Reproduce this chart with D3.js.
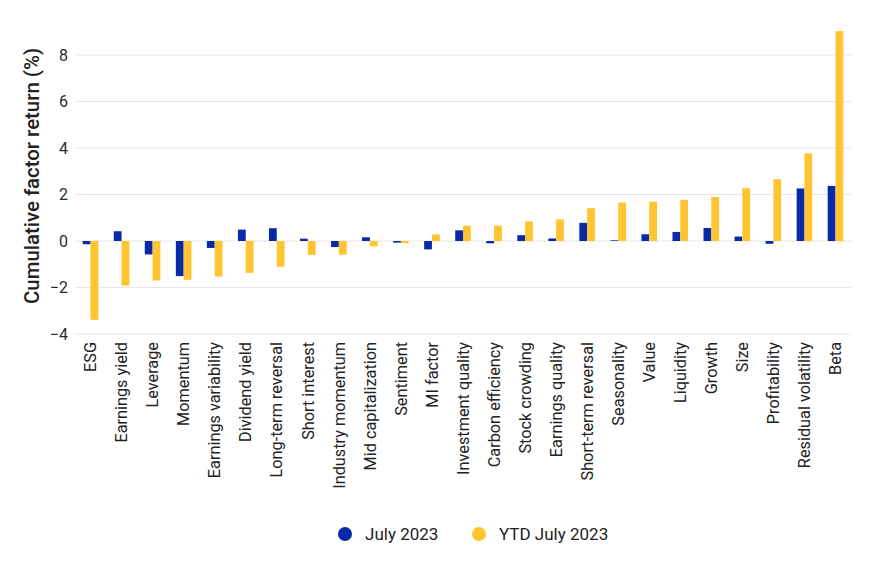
<!DOCTYPE html>
<html>
<head>
<meta charset="utf-8">
<script src="https://cdn.jsdelivr.net/npm/d3@7"></script>
<style>
  body { margin: 0; background: #fff; }
  svg { display: block; font-family: Roboto, "Noto Sans", sans-serif; }
</style>
</head>
<body>
<div id="chart"></div>
<script>
const factors = ['ESG', 'Earnings yield', 'Leverage', 'Momentum', 'Earnings variability',
  'Dividend yield', 'Long-term reversal', 'Short interest', 'Industry momentum',
  'Mid capitalization', 'Sentiment', 'MI factor', 'Investment quality', 'Carbon efficiency',
  'Stock crowding', 'Earnings quality', 'Short-term reversal', 'Seasonality', 'Value',
  'Liquidity', 'Growth', 'Size', 'Profitability', 'Residual volatility', 'Beta'];

const july = [-0.14, 0.42, -0.58, -1.51, -0.30, 0.49, 0.55, 0.10, -0.26, 0.16, -0.07, -0.36,
  0.46, -0.10, 0.25, 0.11, 0.78, 0.03, 0.29, 0.39, 0.56, 0.19, -0.12, 2.26, 2.37];

const ytd = [-3.39, -1.92, -1.70, -1.67, -1.53, -1.37, -1.11, -0.60, -0.59, -0.23, -0.09, 0.28,
  0.66, 0.66, 0.84, 0.93, 1.41, 1.65, 1.69, 1.77, 1.89, 2.27, 2.66, 3.77, 9.03];

const yTicks = [-4, -2, 0, 2, 4, 6, 8];
const seriesNames = ['July 2023', 'YTD July 2023'];
const colors = ['#0a29a8', '#ffc530'];

const width = 870;
const height = 562;

const svg = d3.select('#chart').append('svg')
  .attr('width', width)
  .attr('height', height);

const x = d3.scaleBand()
  .domain(factors)
  .range([75, 851]);

const y = d3.scaleLinear()
  .domain([-4, 8])
  .range([334, 55]);

const barW = 7.8;

// gridlines
svg.append('g')
  .selectAll('line')
  .data(yTicks)
  .enter()
  .append('line')
  .attr('x1', 75)
  .attr('x2', 851)
  .attr('y1', d => y(d))
  .attr('y2', d => y(d))
  .style('stroke', '#e6e6e6')
  .style('stroke-width', 1);

// y axis labels
const yAxis = svg.append('g')
  .attr('transform', 'translate(68,0)')
  .call(d3.axisLeft(y).tickValues(yTicks).tickSize(0).tickPadding(0)
    .tickFormat(d => (d < 0 ? '\u2212' + Math.abs(d) : d)));
yAxis.select('.domain').remove();
yAxis.selectAll('text')
  .style('font-family', 'Roboto, sans-serif')
  .style('font-size', '16px')
  .style('fill', '#2a2a2a');

svg.append('text')
  .attr('transform', 'translate(39,176) rotate(-90)')
  .attr('text-anchor', 'middle')
  .style('font-size', '20.4px')
  .style('font-weight', 500)
  .style('fill', '#222')
  .text('Cumulative factor return (%)');

// bars
const groups = svg.append('g')
  .selectAll('.factor')
  .data(factors)
  .enter()
  .append('g')
  .attr('class', 'factor')
  .attr('transform', d => `translate(${x(d) + x.bandwidth() / 2},0)`);

[july, ytd].forEach((vals, s) => {
  groups.append('rect')
    .attr('x', s === 0 ? -barW : 0)
    .attr('width', barW)
    .attr('y', (d, i) => y(Math.max(0, vals[i])))
    .attr('height', (d, i) => Math.abs(y(vals[i]) - y(0)))
    .style('fill', colors[s]);
});

// x labels
svg.append('g')
  .selectAll('text')
  .data(factors)
  .enter()
  .append('text')
  .attr('transform', d => `translate(${x(d) + x.bandwidth() / 2},342) rotate(-90)`)
  .attr('text-anchor', 'end')
  .attr('dy', '0.35em')
  .style('font-size', '16.3px')
  .style('fill', '#222')
  .text(d => d);

// legend
const legend = svg.append('g')
  .selectAll('g')
  .data(seriesNames)
  .enter()
  .append('g')
  .attr('transform', (d, i) => `translate(${i === 0 ? 345 : 479},534)`);

legend.append('circle')
  .attr('r', 7)
  .style('fill', (d, i) => colors[i]);

legend.append('text')
  .attr('x', 20)
  .attr('dy', '0.35em')
  .style('font-size', '17px')
  .style('fill', '#222')
  .text(d => d);
</script>
</body>
</html>
